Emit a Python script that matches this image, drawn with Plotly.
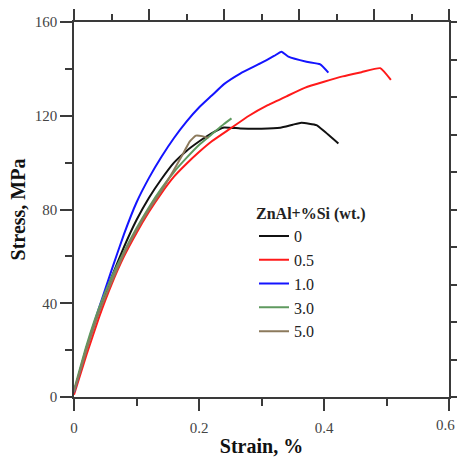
import plotly.graph_objects as go

# Data
names = ["0", "0.5", "1.0", "3.0", "5.0"]
colors = ["#111111", "#ff1a1a", "#1414ff", "#5f9a5f", "#8c7a5c"]

strain_0 = [0, 0.02, 0.04, 0.06, 0.08, 0.10, 0.12, 0.14, 0.16, 0.18, 0.20, 0.22, 0.24, 0.266, 0.30, 0.33, 0.35, 0.364, 0.388, 0.40, 0.423]
stress_0 = [2, 21, 37, 51, 64, 75.5, 85, 93, 100, 105, 109, 112.5, 115, 114.6, 114.5, 114.9, 116.2, 117, 116, 113.5, 108.2]

strain_05 = [0, 0.02, 0.04, 0.06, 0.08, 0.10, 0.12, 0.14, 0.16, 0.18, 0.20, 0.22, 0.25, 0.28, 0.31, 0.34, 0.37, 0.40, 0.43, 0.46, 0.49, 0.507]
stress_05 = [1, 18, 34, 48, 60, 70, 79, 87, 94, 99.5, 104.5, 109, 114.5, 120, 124.5, 128.3, 132, 134.5, 136.8, 138.6, 140.3, 135.3]

strain_10 = [0, 0.02, 0.04, 0.06, 0.08, 0.10, 0.12, 0.14, 0.16, 0.18, 0.20, 0.22, 0.24, 0.266, 0.298, 0.32, 0.332, 0.343, 0.372, 0.394, 0.407]
stress_10 = [2, 21, 38, 54, 69.5, 83, 93.5, 102.5, 110.5, 117.5, 123.5, 128.5, 133.5, 138, 142.3, 145.5, 147.3, 145.2, 143, 141.9, 138.4]

strain_30 = [0, 0.02, 0.04, 0.06, 0.08, 0.10, 0.12, 0.14, 0.16, 0.18, 0.20, 0.22, 0.24, 0.252]
stress_30 = [3, 22, 38, 51, 62, 72, 81, 89, 96, 102, 107.5, 112, 116.5, 118.9]

strain_50 = [0, 0.02, 0.04, 0.06, 0.08, 0.10, 0.12, 0.14, 0.16, 0.175, 0.185, 0.195, 0.205, 0.215]
stress_50 = [2, 20, 36, 49, 61, 71, 80, 88, 97, 104, 109, 111.5, 111.3, 110.5]

series = [(strain_0, stress_0), (strain_05, stress_05), (strain_10, stress_10),
          (strain_30, stress_30), (strain_50, stress_50)]

x_ticks = [0, 0.2, 0.4, 0.6]
x_ticklabels = ["0", "0.2", "0.4", "0.6"]
y_ticks = [0, 40, 80, 120, 160]

FONT = "Liberation Serif"
AX = "#3a3a3a"

fig = go.Figure()
for (xs, ys), n, c in zip(series, names, colors):
    fig.add_trace(go.Scatter(x=xs, y=ys, mode="lines", name=n,
                             line=dict(color=c, width=2, shape="spline", smoothing=0.4)))

# empty trace so that the top/right frame axes are drawn
fig.add_trace(go.Scatter(x=[None], y=[None], xaxis="x2", yaxis="y2",
                         mode="lines", showlegend=False, hoverinfo="skip"))

# last x tick label, kept inside the page edge
fig.add_annotation(x=1 + 8 / 375, xref="paper", y=0, yref="paper", yshift=-28,
                   text=x_ticklabels[-1], showarrow=False, xanchor="right", yanchor="middle",
                   font=dict(family=FONT, size=15, color="#444"))

fig.update_layout(
    width=457, height=460,
    margin=dict(l=74, r=8, t=22, b=63),
    paper_bgcolor="white", plot_bgcolor="white",
    font=dict(family=FONT, color="#222"),
    showlegend=True,
    legend=dict(
        x=0.48, y=0.53, xanchor="left", yanchor="top",
        bgcolor="rgba(0,0,0,0)",
        font=dict(family=FONT, size=16, color="#222"),
        title=dict(text="<b>ZnAl+%Si (wt.)</b>", font=dict(family=FONT, size=16, color="#222")),
        tracegroupgap=0,
    ),
    xaxis=dict(
        range=[0, 0.6], tickvals=x_ticks, ticktext=x_ticklabels, automargin=False,
        showgrid=False, zeroline=False,
        showline=True, linecolor=AX, linewidth=1.5,
        ticks="outside", ticklen=12, tickwidth=1.5, tickcolor=AX,
        minor=dict(dtick=0.1, ticks="outside", ticklen=7, tickwidth=1.5, tickcolor=AX, showgrid=False),
        tickfont=dict(family=FONT, size=15, color="#444"),
        ticklabelstandoff=4,
        title=dict(text="<b>Strain, %</b>", font=dict(family=FONT, size=20, color="#111"), standoff=4),
    ),
    yaxis=dict(
        range=[0, 160], tickvals=y_ticks, automargin=False,
        showgrid=False, zeroline=False,
        showline=True, linecolor=AX, linewidth=1.5,
        ticks="outside", ticklen=12, tickwidth=1.5, tickcolor=AX,
        minor=dict(dtick=20, ticks="outside", ticklen=7, tickwidth=1.5, tickcolor=AX, showgrid=False),
        tickfont=dict(family=FONT, size=15, color="#444"),
        title=dict(text="<b>Stress, MPa</b>", font=dict(family=FONT, size=20, color="#111"), standoff=4),
    ),
    xaxis2=dict(
        overlaying="x", side="top", anchor="y2", range=[0, 10], automargin=False,
        dtick=2, showticklabels=False, showgrid=False, zeroline=False,
        showline=True, linecolor=AX, linewidth=1.5,
        ticks="outside", ticklen=11, tickwidth=1.5, tickcolor=AX,
        minor=dict(dtick=1, ticks="outside", ticklen=6, tickwidth=1.5, tickcolor=AX, showgrid=False),
    ),
    yaxis2=dict(
        overlaying="y", side="right", anchor="x2", range=[0, 10], automargin=False,
        dtick=1, showticklabels=False, showgrid=False, zeroline=False,
        showline=True, linecolor=AX, linewidth=1.5,
        ticks="outside", ticklen=6, tickwidth=1.5, tickcolor=AX,
    ),
)

fig.write_html("out.html")
